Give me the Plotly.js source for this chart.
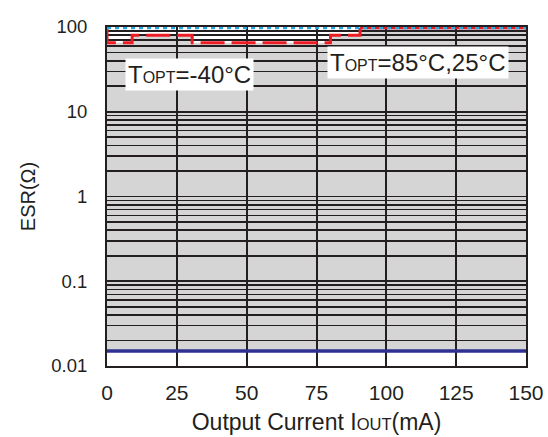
<!DOCTYPE html>
<html>
<head>
<meta charset="utf-8">
<script src="https://cdn.plot.ly/plotly-3.0.1.min.js"></script>
<style>html,body{margin:0;padding:0;background:#fff}#chart{width:548px;height:437px}</style>
</head>
<body>
<div id="chart"></div>
<script>
// Output current (mA) and ESR boundaries (Ohm)
const currentSpan = [0, 150];
const esrLowBoundary = [0.015, 0.015];            // lower stable limit (blue)
const highStepCurrent = [0, 0, 9, 30.5, 80, 90.6]; // -40°C upper limit steps
const highStepEsr = [98, 65, 80, 65, 80, 98];
const highTopCurrent = [90.6, 150];                // -40°C upper limit beyond steps
const highTopEsr = [98, 98];
const fillCurrent = [0, 0, 9, 30.5, 80, 90.6, 150];
const fillEsr = [98, 65, 80, 65, 80, 100, 100];
const hotTopEsr = [98, 98];                        // 85°C,25°C upper limit (cyan)
const xTicks = [0, 25, 50, 75, 100, 125, 150];
const yDecades = [0.01, 0.1, 1, 10, 100];
const yDecadeLabels = ['0.01', '0.1', '1', '10', '100'];
const minorMult = [2, 3, 4, 5, 6, 7, 8, 9];

const ink = '#231f20';
const fam = 'Liberation Sans, Arial, sans-serif';
const yTickVals = [], yTickText = [];
yDecades.forEach((d, i) => {
  yTickVals.push(d); yTickText.push(yDecadeLabels[i]);
  if (i < yDecades.length - 1) minorMult.forEach(m => { yTickVals.push(d * m); yTickText.push(''); });
});

const traces = [
  {x: currentSpan, y: esrLowBoundary, mode: 'lines', line: {width: 0}, hoverinfo: 'skip'},
  {x: fillCurrent, y: fillEsr, mode: 'lines', line: {width: 0, shape: 'hv'},
   fill: 'tonexty', fillcolor: 'rgba(35,31,32,0.19)', hoverinfo: 'skip'},
  {x: currentSpan, y: esrLowBoundary, mode: 'lines', line: {color: '#2e3192', width: 3.5}},
  {x: highTopCurrent, y: highTopEsr, mode: 'lines', line: {color: '#ed1c24', width: 3}},
  {x: highStepCurrent, y: highStepEsr, mode: 'lines',
   line: {color: '#ed1c24', width: 3, shape: 'hv', dash: '24px,7px'}},
  {x: currentSpan, y: hotTopEsr, mode: 'lines',
   line: {color: '#27aae1', width: 3, dash: '4px,4px'}}
];

const annFont = {family: fam, size: 24, color: ink};

const layout = {
  width: 548, height: 437,
  margin: {l: 107, r: 22, t: 27, b: 71},
  paper_bgcolor: '#ffffff', plot_bgcolor: '#ffffff',
  showlegend: false,
  font: {family: fam, size: 19, color: ink},
  xaxis: {
    range: [0, 150], tickvals: xTicks, ticktext: xTicks.map(String),
    showgrid: true, gridcolor: ink, gridwidth: 2,
    showline: true, mirror: true, linecolor: ink, linewidth: 2,
    ticks: '', ticklabelstandoff: 7, zeroline: false,
    tickfont: {family: fam, size: 21, color: ink},
    title: {text: 'Output Current I<span style="font-size:16.5px">OUT</span>(mA)',
            font: {family: fam, size: 23, color: ink}, standoff: 11}
  },
  yaxis: {
    type: 'log', range: [-2, 2], tickvals: yTickVals, ticktext: yTickText,
    showgrid: true, gridcolor: ink, gridwidth: 1.6,
    showline: true, mirror: true, linecolor: ink, linewidth: 2,
    ticks: '', ticklabelstandoff: 14, zeroline: false,
    tickfont: {family: fam, size: 18.5, color: ink},
    title: {text: 'ESR(Ω)', font: {family: fam, size: 20, color: ink}, standoff: 10}
  },
  annotations: [
    {xref: 'paper', yref: 'paper', x: 0.198, y: 0.86, xanchor: 'center', yanchor: 'middle',
     showarrow: false, text: 'T<span style="font-size:16px">OPT</span>=-40°C',
     font: annFont, bgcolor: '#ffffff', borderpad: 2},
    {xref: 'paper', yref: 'paper', x: 0.742, y: 0.894, xanchor: 'center', yanchor: 'middle',
     showarrow: false, text: 'T<span style="font-size:16px">OPT</span>=85°C,25°C',
     font: annFont, bgcolor: '#ffffff', borderpad: 2}
  ]
};

Plotly.newPlot('chart', traces, layout, {displayModeBar: false, staticPlot: true});
</script>
</body>
</html>
